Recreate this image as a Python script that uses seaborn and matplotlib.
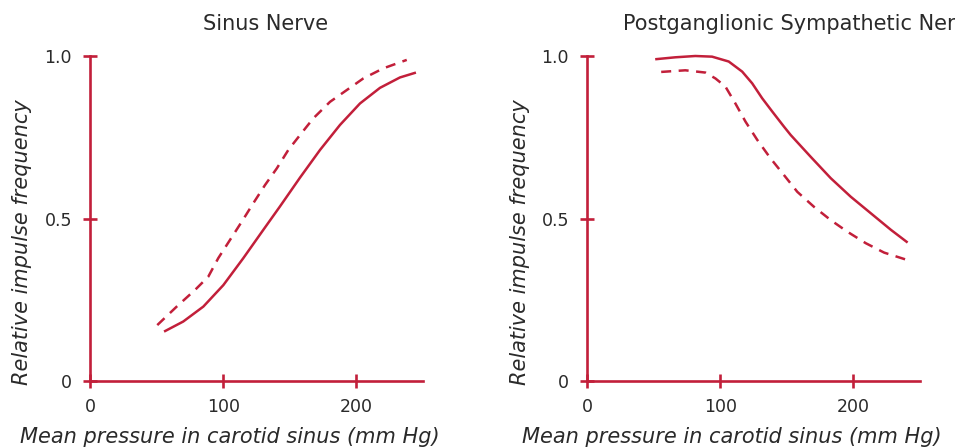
import pandas as pd
import seaborn as sns
import matplotlib.pyplot as plt

# values (pressure in mm Hg, relative impulse frequency)
sinus_solid_p = [55.6, 70.0, 85.1, 100.1, 115.1, 130.1, 142.6, 157.7, 172.7,
                 187.7, 202.7, 217.7, 232.7, 244.7]
sinus_solid_f = [0.152, 0.183, 0.229, 0.295, 0.378, 0.465, 0.537, 0.626, 0.711,
                 0.788, 0.854, 0.902, 0.934, 0.949]
sinus_dash_p = [50.5, 65.1, 78.8, 88.8, 96.3, 105.1, 113.9, 122.6, 131.4, 140.2,
                148.9, 157.7, 167.6, 180.2, 192.7, 205.2, 220.2, 237.8]
sinus_dash_f = [0.172, 0.229, 0.280, 0.321, 0.378, 0.434, 0.490, 0.547, 0.603, 0.654,
                0.711, 0.757, 0.808, 0.859, 0.895, 0.931, 0.962, 0.988]

symp_solid_p = [51.2, 66.3, 81.3, 93.9, 106.4, 116.5, 124.0, 131.5, 139.1, 147.8,
                152.9, 167.9, 183.0, 198.0, 213.1, 228.2, 240.7]
symp_solid_f = [0.990, 0.996, 1.0, 0.998, 0.983, 0.952, 0.916, 0.870, 0.829, 0.783,
                0.757, 0.690, 0.624, 0.567, 0.516, 0.465, 0.426]
symp_dash_p = [55.7, 73.8, 88.9, 96.4, 103.9, 111.4, 119.0, 127.8, 137.8, 147.8,
               157.9, 170.4, 183.0, 195.6, 209.3, 223.1, 240.7]
symp_dash_f = [0.951, 0.956, 0.949, 0.931, 0.906, 0.854, 0.798, 0.742, 0.685, 0.634,
               0.582, 0.536, 0.495, 0.459, 0.424, 0.395, 0.372]

x_ticks = [0, 100, 200]
y_ticks = [0, 0.5, 1.0]
y_tick_labels = ["0", "0.5", "1.0"]

RED = "#c21f3a"
TXT = "#2a2a2a"

sns.set_theme(style="white")
plt.rcParams["font.family"] = ["DejaVu Sans"]

fig = plt.figure(figsize=(9.55, 4.47), dpi=100)
ax_l = fig.add_axes([90 / 955, 66 / 447, 333 / 955, 325 / 447])
ax_r = fig.add_axes([587 / 955, 66 / 447, 333 / 955, 325 / 447])


def draw_panel(ax, sp, sf, dp, df):
    solid = pd.DataFrame({"p": sp, "f": sf})
    dash = pd.DataFrame({"p": dp, "f": df})
    sns.lineplot(data=solid, x="p", y="f", ax=ax, color=RED, lw=1.8, sort=False)
    sns.lineplot(data=dash, x="p", y="f", ax=ax, color=RED, lw=1.8, sort=False,
                 linestyle=(0, (4, 3)))
    ax.set_xlim(0, 250)
    ax.set_ylim(0, 1.0)
    ax.set_xticks(x_ticks)
    ax.set_yticks(y_ticks)
    ax.set_yticklabels(y_tick_labels)
    ax.set_xlabel("")
    ax.set_ylabel("")
    for s in ["top", "right"]:
        ax.spines[s].set_visible(False)
    for s in ["left", "bottom"]:
        ax.spines[s].set_color(RED)
        ax.spines[s].set_linewidth(1.9)
    ax.tick_params(axis="both", direction="inout", length=10, width=1.9, color=RED,
                   labelsize=12.5, labelcolor=TXT, bottom=True, left=True)
    ax.tick_params(axis="y", pad=8)
    ax.tick_params(axis="x", pad=7)
    for line in ax.get_lines():
        line.set_clip_on(False)
        line.set_solid_capstyle("butt")
        line.set_solid_joinstyle("round")


draw_panel(ax_l, sinus_solid_p, sinus_solid_f, sinus_dash_p, sinus_dash_f)
draw_panel(ax_r, symp_solid_p, symp_solid_f, symp_dash_p, symp_dash_f)

fig.text(266 / 955, 1 - 30 / 447, "Sinus Nerve", ha="center", va="baseline",
         fontsize=15, color=TXT)
fig.text(623 / 955, 1 - 30 / 447, "Postganglionic Sympathetic Nerve", ha="left",
         va="baseline", fontsize=15, color=TXT)

xlab = "Mean pressure in carotid sinus (mm Hg)"
ylab = "Relative impulse frequency"
fig.text(20 / 955, 4 / 447, xlab, ha="left", va="baseline", fontsize=15,
         style="italic", color=TXT)
fig.text(522 / 955, 4 / 447, xlab, ha="left", va="baseline", fontsize=15,
         style="italic", color=TXT)
fig.text(22 / 955, 1 - 242 / 447, ylab, ha="center", va="center", rotation=90,
         fontsize=15, style="italic", color=TXT)
fig.text(520 / 955, 1 - 242 / 447, ylab, ha="center", va="center", rotation=90,
         fontsize=15, style="italic", color=TXT)

fig.savefig("out.png", dpi=100)
